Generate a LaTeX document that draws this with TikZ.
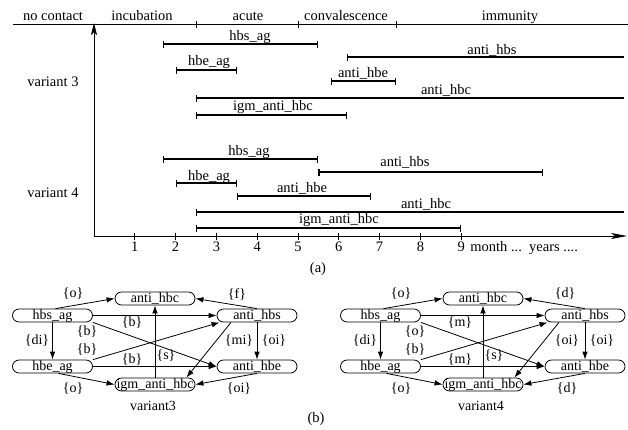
\documentclass[tikz,border=0pt]{standalone}
\usepackage{fontspec}
\setmainfont{Liberation Serif}
\usetikzlibrary{arrows.meta,calc}

\tikzset{
  txt/.style={font=\fontsize{14.5}{16}\selectfont, inner sep=0pt},
  lbl/.style={txt, anchor=base},
  axisline/.style={line width=0.8pt},
  bar/.style={line width=1.1pt, {Bar[width=7pt]}-{Bar[width=7pt]}},
  openbar/.style={line width=1.1pt, {Bar[width=7pt]}-},
  gnode/.style={draw, line width=0.8pt, rounded corners=6.5pt, minimum width=80pt,
    minimum height=13pt, inner sep=0pt, text height=9.5pt, text depth=2.5pt,
    font=\fontsize{14}{15}\selectfont},
  garrow/.style={line width=0.8pt, -{Latex[length=8pt,width=5.5pt]}},
  elbl/.style={font=\fontsize{14}{15}\selectfont, inner sep=0pt},
}

% relation graph between the six markers; arguments are the edge labels that vary
\newcommand{\markergraph}[7]{%
  \node[gnode] (ahc) at (155,298.5) {anti\_hbc};
  \node[gnode] (hs)  at (52.5,315.5) {hbs\_ag};
  \node[gnode] (ahs) at (257,315.5) {anti\_hbs};
  \node[gnode] (he)  at (52.5,366.5) {hbe\_ag};
  \node[gnode] (ahe) at (257,366.5) {anti\_hbe};
  \node[gnode] (igm) at (155,384.5) {igm\_anti\_hbc};
  \node[lbl, font=\fontsize{14}{15}\selectfont] (cap) at (153,410) {#7};
  \draw[garrow] ([xshift=3pt]hs.north) -- (ahc.west);
  \draw[garrow] (ahs.north) -- (ahc.east);
  \draw[garrow] (hs.east) -- (ahs.west);
  \draw[garrow] (hs.south east) -- (ahe.west);
  \draw[garrow] (hs.south) -- (he.north);
  \draw[garrow] (he.north east) -- ([xshift=3pt]ahs.south west);
  \draw[garrow] (he.east) -- (ahe.west);
  \draw[garrow] ([xshift=6pt]he.south) -- (igm.west);
  \draw[garrow] (ahe.south) -- (igm.east);
  \draw[garrow] (igm.north) -- (ahc.south);
  \draw[garrow] ([xshift=-26pt]ahs.south) -- ([xshift=-9pt]igm.north east);
  \draw[garrow] (ahs.south) -- (ahe.north);
  \node[elbl] (l1)  at (73,294)  {\{o\}};
  \node[elbl] (l2)  at (237,294) {\{#1\}};
  \node[elbl] (l3)  at (132,323) {\{#2\}};
  \node[elbl] (l4)  at (87,332)  {\{#3\}};
  \node[elbl] (l5)  at (37,341)  {\{di\}};
  \node[elbl] (l6)  at (87,350)  {\{b\}};
  \node[elbl] (l7)  at (132,360) {\{#4\}};
  \node[elbl] (l8)  at (166,356) {\{s\}};
  \node[elbl] (l9)  at (239,341) {\{#5\}};
  \node[elbl] (l10) at (274,341) {\{oi\}};
  \node[elbl] (l11) at (73,389)  {\{o\}};
  \node[elbl] (l12) at (239,389) {\{#6\}};
}

\begin{document}
\begin{tikzpicture}[x=1pt,y=-1pt]
\useasboundingbox (0,0) rectangle (628,429);

% phases of the infection
\draw[axisline] (13,24) -- (628,24);
\foreach \px in {196,298,396} \draw[axisline] (\px,20.5) -- (\px,27.5);
\node[lbl] (p0) at (53,20.5)  {no contact};
\node[lbl] (p1) at (142,20.5) {incubation};
\node[lbl] (p2) at (248,20.5) {acute};
\node[lbl] (p3) at (346,20.5) {convalescence};
\node[lbl] (p4) at (510,20.5) {immunity};

% axes
\draw[axisline, -{Stealth[length=12pt,width=6pt,inset=3pt]}] (94,236) -- (94,23);
\draw[axisline, -{Stealth[length=16pt,width=6pt,inset=4pt]}] (94,236) -- (627,236);

\begin{scope}[shift={(94,0)}, x=40.8pt]
  \foreach \t in {1,...,9} {
    \draw[axisline] (\t,232.5) -- (\t,240);
  }
  \foreach \t in {1,...,8} \node[lbl] at (\t,251.5) {\t};
  \node[lbl] (n9) at (9,251.5) {9};
  \node[txt, anchor=base west] (tail) at (9.22,251.5) {month ...\ \ years ....};

  % variant 3
  \draw[bar]     (1.7,44)  -- (5.5,44);
  \draw[openbar] (6.2,57)  -- (13,57);
  \draw[bar]     (2.0,70)  -- (3.5,70);
  \draw[bar]     (5.8,81)  -- (7.4,81);
  \draw[openbar] (2.5,98)  -- (13,98);
  \draw[bar]     (2.5,115) -- (6.2,115);
  % variant 4
  \draw[bar]     (1.7,159) -- (5.5,159);
  \draw[bar]     (5.5,172) -- (11.0,172);
  \draw[bar]     (2.0,183) -- (3.5,183);
  \draw[bar]     (3.5,196) -- (6.8,196);
  \draw[openbar] (2.5,212) -- (13,212);
  \draw[bar]     (2.5,228) -- (9.0,228);
\end{scope}

\node[lbl] (a1) at (250,40.7)  {hbs\_ag};
\node[lbl] (a2) at (492,54.3)  {anti\_hbs};
\node[lbl] (a3) at (209,65.5)  {hbe\_ag};
\node[lbl] (a4) at (363,77.5)  {anti\_hbe};
\node[lbl] (a5) at (446,94.5)  {anti\_hbc};
\node[lbl] (a6) at (273,110.5) {igm\_anti\_hbc};
\node[lbl] (b1) at (249,155)   {hbs\_ag};
\node[lbl] (b2) at (405,166.7) {anti\_hbs};
\node[lbl] (b3) at (209,180)   {hbe\_ag};
\node[lbl] (b4) at (302,192.3) {anti\_hbe};
\node[lbl] (b5) at (426,208.3) {anti\_hbc};
\node[lbl] (b6) at (339,223.3) {igm\_anti\_hbc};

\node[lbl] (v3) at (53,86)  {variant 3};
\node[lbl] (v4) at (53,197) {variant 4};
\node[lbl] (capa) at (318,272) {(a)};

% relation graphs
\begin{scope}[name prefix=L-]
  \markergraph{f}{b}{b}{b}{mi}{oi}{variant3}
\end{scope}
\begin{scope}[xshift=328pt, name prefix=R-]
  \markergraph{d}{m}{o}{m}{oi}{d}{variant4}
\end{scope}
\node[lbl] (capb) at (316,422) {(b)};
\end{tikzpicture}
\end{document}
